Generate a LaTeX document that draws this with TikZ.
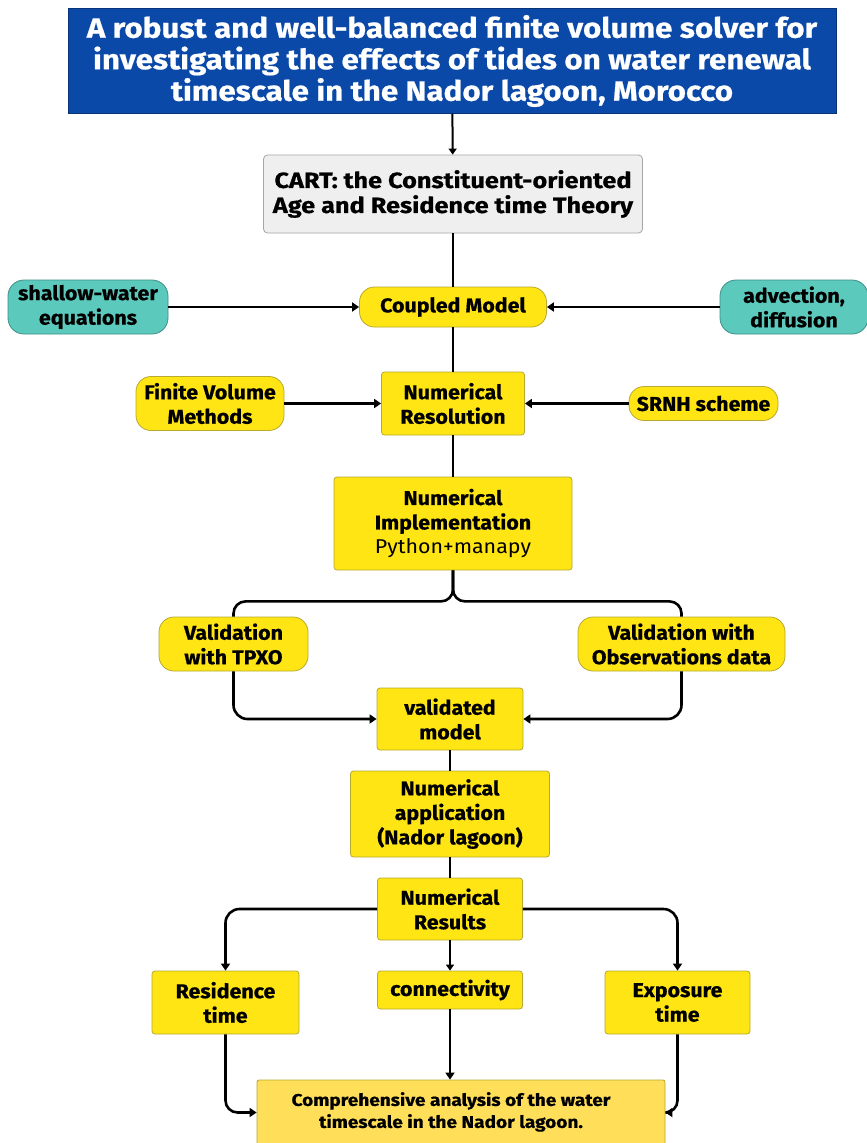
\documentclass[tikz,border=0pt]{standalone}
\usepackage{fontspec}
\setmainfont{Fira Sans}
\newfontfamily\fA{Fira Sans}[FakeStretch=1.07, BoldFeatures={FakeBold=0.6}]
\newfontfamily\fB{Fira Sans}[FakeStretch=1.12, BoldFeatures={FakeBold=0.6}]
\newfontfamily\fC{Fira Sans}[FakeStretch=1.15, BoldFeatures={FakeBold=0.6}]
\usetikzlibrary{arrows.meta}
\definecolor{yel}{HTML}{FFE514}
\definecolor{ybord}{HTML}{B8A930}
\definecolor{teal2}{HTML}{5CC9BD}
\definecolor{tbord}{HTML}{3E8F86}
\definecolor{blu}{HTML}{0B49A8}
\definecolor{grayf}{HTML}{EFEFEF}
\definecolor{compy}{HTML}{FFDE59}
\begin{document}
\begin{tikzpicture}[x=1pt,y=-1pt,
  base/.style={align=center, inner sep=0pt, font=\fA\bfseries\fontsize{20}{24.5}\selectfont, text=black},
  ybox/.style={base, draw=ybord, line width=0.8pt, fill=yel, rounded corners=3pt},
  ypill/.style={ybox, rounded corners=15pt},
  tpill/.style={base, draw=tbord, line width=0.8pt, fill=teal2, rounded corners=16pt},
  ln/.style={line width=2.6pt, draw=black},
  arr/.style={ln, -{Triangle[length=7pt,width=9pt]}},
]
\useasboundingbox (0,0) rectangle (867,1143);
\fill[white] (0,0) rectangle (867,1143);

\node[base, fill=blu, draw=blu!70!black, text=white, minimum width=768, minimum height=105,
      font=\fB\bfseries\fontsize{28}{31.5}\selectfont] (title) at (452,61)
  {A robust and well-balanced finite volume solver for\\investigating the effects of tides on water renewal\\timescale in the Nador lagoon, Morocco};

\node[base, fill=grayf, draw=gray!70, line width=0.8pt, rounded corners=4pt, minimum width=379, minimum height=78,
      font=\fC\bfseries\fontsize{22}{25}\selectfont] (cart) at (453,194)
  {CART: the Constituent-oriented\\Age and Residence time Theory};

\node[ypill, minimum width=187, minimum height=40] (coupled) at (453,307) {Coupled Model};
\node[tpill, minimum width=160, minimum height=54] (sw) at (88,307) {shallow-water\\equations};
\node[tpill, minimum width=148, minimum height=54] (adv) at (794,307) {advection,\\diffusion};

\node[ybox, minimum width=143, minimum height=63] (nres) at (453,403.5) {Numerical\\Resolution};
\node[ypill, minimum width=148, minimum height=54] (fvm) at (210,403.5) {Finite Volume\\Methods};
\node[ypill, minimum width=149, minimum height=34] (srnh) at (703.5,403.5) {SRNH scheme};

\node[ybox, minimum width=238, minimum height=93] (nimp) at (453,523.5) {Numerical\\Implementation\\\mdseries Python+manapy};

\node[ypill, minimum width=149, minimum height=54] (tpxo) at (233.5,644) {Validation\\with TPXO};
\node[ypill, minimum width=207, minimum height=54] (obs) at (681.5,644) {Validation with\\Observations data};

\node[ybox, minimum width=146, minimum height=62] (vm) at (450,719) {validated\\model};
\node[ybox, minimum width=199, minimum height=86] (napp) at (450,814) {Numerical\\application\\(Nador lagoon)};
\node[ybox, minimum width=145, minimum height=62] (nresu) at (450,909) {Numerical\\Results};

\node[ybox, minimum width=147, minimum height=63] (res) at (225.5,1002.5) {Residence\\time};
\node[ybox, minimum width=145, minimum height=38] (conn) at (450,990) {connectivity};
\node[ybox, minimum width=145, minimum height=63] (exp) at (677.5,1002.5) {Exposure\\time};

\node[ybox, fill=compy, rounded corners=2pt, minimum width=408, minimum height=65,
      font=\fB\bfseries\fontsize{17}{22}\selectfont] (comp) at (461,1112.5)
  {\raisebox{7pt}{\begin{tabular}{@{}c@{}}Comprehensive analysis of the water\\timescale in the Nador lagoon.\end{tabular}}\hspace{20pt}};

% connectors
\draw[ln, line width=2pt, -{Triangle[length=6pt,width=8pt]}] (title) -- (cart);
\draw[ln] (cart) -- (coupled);
\draw[arr] (sw) -- (coupled);
\draw[arr] (adv) -- (coupled);
\draw[ln] (coupled) -- (nres);
\draw[arr] (fvm) -- (nres);
\draw[arr] (srnh) -- (nres);
\draw[ln] (nres) -- (nimp);
\draw[ln, rounded corners=12pt] (nimp.south) -- ++(0,31) -| (tpxo.north);
\draw[ln, rounded corners=12pt] (nimp.south) -- ++(0,31) -| (obs.north);
\draw[arr, rounded corners=14pt] (tpxo.south) |- (vm.west);
\draw[arr, rounded corners=14pt] (obs.south) |- (vm.east);
\draw[ln] (vm) -- (napp);
\draw[ln] (napp) -- (nresu);
\draw[arr, rounded corners=14pt] (nresu.west) -| (res.north);
\draw[arr, rounded corners=14pt] (nresu.east) -| (exp.north);
\draw[arr, line width=2pt, -{Triangle[length=6pt,width=8pt]}] (nresu) -- (conn);
\draw[arr] (conn.south) -- (conn.south |- comp.north);
\draw[arr, rounded corners=12pt] (res.south) |- (comp.west);
\draw[arr, rounded corners=12pt] (exp.south) |- (comp.east);
\end{tikzpicture}
\end{document}
